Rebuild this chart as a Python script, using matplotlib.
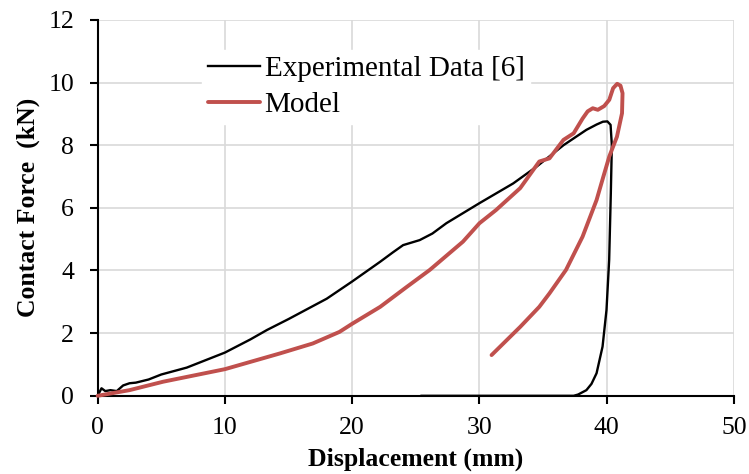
import matplotlib
matplotlib.use('Agg')
import matplotlib.pyplot as plt

# experimental data (loading + unloading)
exp_x = [0, 0.3, 0.6, 1.0, 1.5, 2.0, 2.5, 3.0, 4.0, 5.0, 7.0, 10.0, 12.0, 13.3, 15.0, 18.0,
         20.0, 22.2, 23.2, 24.0, 25.3, 26.3, 27.4, 30.0, 32.65, 34.5, 36.6, 38.4, 39.2, 39.7,
         40.05, 40.3, 40.4, 40.32, 40.19, 39.98, 39.67, 39.2, 38.8, 38.4, 37.75, 37.4, 25.45]
exp_y = [0, 0.24, 0.15, 0.18, 0.15, 0.33, 0.4, 0.42, 0.52, 0.68, 0.9, 1.38, 1.8, 2.1, 2.45, 3.1,
         3.65, 4.28, 4.58, 4.81, 4.97, 5.18, 5.51, 6.15, 6.78, 7.32, 8.0, 8.49, 8.66, 8.75,
         8.76, 8.65, 8.0, 6.47, 4.34, 2.74, 1.57, 0.72, 0.38, 0.18, 0.04, 0.0, 0.0]

# model
mod_x = [0, 2.5, 5.15, 10.0, 14.3, 16.9, 19.0, 20.0, 22.2, 24.2, 26.1, 28.7, 30.0, 31.3, 33.2,
         34.7, 35.5, 36.6, 37.4, 38.1, 38.5, 38.9, 39.3, 39.8, 40.2, 40.5, 40.82, 41.08, 41.24,
         41.2, 40.8, 40.2, 39.7, 39.2, 38.1, 36.8, 35.5, 34.7, 33.2, 30.95]
mod_y = [0, 0.18, 0.45, 0.85, 1.35, 1.67, 2.04, 2.3, 2.84, 3.45, 4.02, 4.92, 5.51, 5.93, 6.63,
         7.48, 7.58, 8.17, 8.38, 8.85, 9.08, 9.18, 9.13, 9.25, 9.45, 9.82, 9.96, 9.9, 9.66,
         9.02, 8.27, 7.64, 6.95, 6.25, 5.08, 4.02, 3.27, 2.84, 2.2, 1.30]

plt.rcParams['font.family'] = ['Liberation Serif', 'DejaVu Serif']

fig = plt.figure(figsize=(7.49, 4.74), dpi=100)
ax = fig.add_axes([0.1304, 0.165, 0.8496, 0.793])

ax.plot(exp_x, exp_y, color='black', linewidth=1.7, label='Experimental Data [6]',
        zorder=3, solid_joinstyle='round', clip_on=False)
ax.plot(mod_x, mod_y, color='#c0504d', linewidth=2.8, label='Model', zorder=4,
        solid_joinstyle='round', solid_capstyle='round', clip_on=False)

ax.set_xlim(0, 50)
ax.set_ylim(0, 12)
ax.set_xticks(range(0, 51, 10))
ax.set_yticks(range(0, 13, 2))
ax.grid(True, color='#d9d9d9', linewidth=1.2)
ax.set_axisbelow(True)
for side in ['top', 'right']:
    ax.spines[side].set_visible(False)
for side in ['left', 'bottom']:
    ax.spines[side].set_linewidth(1.5)
ax.tick_params(labelsize=18.5, width=1.5, length=6, direction='out')
ax.tick_params(axis='x', pad=9)
ax.tick_params(axis='y', pad=11)

ax.set_xlabel('Displacement (mm)', fontsize=18.5, fontweight='bold', labelpad=6.5)
ax.set_ylabel('Contact Force  (kN)', fontsize=18.5, fontweight='bold', labelpad=6)

leg = ax.legend(loc='upper left', bbox_to_anchor=(0.25, 0.925), bbox_transform=fig.transFigure,
                frameon=True, fontsize=21, handlelength=1.8, handletextpad=0.15,
                labelspacing=0.32, borderpad=0.2, fancybox=False)
leg.get_frame().set_edgecolor('white')
leg.get_frame().set_facecolor('white')
leg.get_frame().set_alpha(1)

plt.savefig('out.png', dpi=100)
